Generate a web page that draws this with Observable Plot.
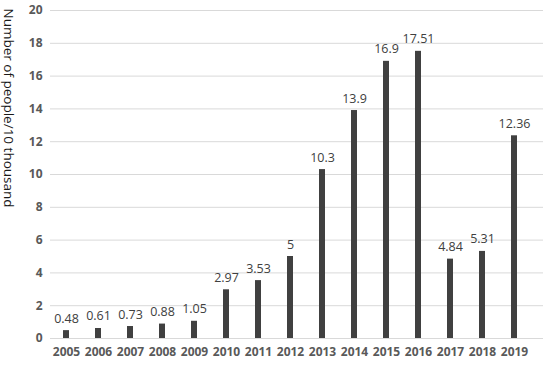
<!DOCTYPE html>
<html>
<head>
<meta charset="utf-8">
<script src="https://cdn.jsdelivr.net/npm/d3@7"></script>
<script src="https://cdn.jsdelivr.net/npm/@observablehq/plot@0.6"></script>
<style>
  html, body { margin: 0; padding: 0; background: #fff; }
  svg { display: block; }
</style>
</head>
<body>
<div id="chart"></div>
<script>
const years = ["2005","2006","2007","2008","2009","2010","2011","2012","2013","2014","2015","2016","2017","2018","2019"];
const values = [0.48, 0.61, 0.73, 0.88, 1.05, 2.97, 3.53, 5, 10.3, 13.9, 16.9, 17.51, 4.84, 5.31, 12.36];
const yTicks = [0, 2, 4, 6, 8, 10, 12, 14, 16, 18, 20];
const yTitle = "Number of people/10 thousand";

const data = years.map((y, i) => ({year: y, value: values[i]}));

const chart = Plot.plot({
  width: 550,
  height: 365,
  marginTop: 10,
  marginBottom: 27,
  marginLeft: 44,
  marginRight: 15,
  style: {fontFamily: "'Open Sans', sans-serif", background: "#fff"},
  x: {domain: years, paddingInner: 0.82, paddingOuter: 0.41, label: null},
  y: {domain: [0, 20], ticks: yTicks, label: null},
  marks: [
    Plot.ruleY(yTicks, {stroke: "#d9d9d9", strokeWidth: 1, insetLeft: 6, insetRight: -8}),
    Plot.barY(data, {x: "year", y: "value", fill: "#404040"}),
    Plot.text(data, {x: "year", y: "value", text: d => String(d.value), dy: -12, fill: "#404040", fontSize: 12.5}),
    Plot.axisX({tickSize: 0, tickPadding: 9, fontSize: 12, fontWeight: "bold", color: "#595959"}),
    Plot.axisY({ticks: yTicks, tickSize: 0, tickPadding: 2, fontSize: 12, fontWeight: "bold", color: "#595959", label: null}),
    Plot.text([yTitle], {frameAnchor: "top-left", dx: -31, dy: -2, rotate: 90, textAnchor: "start", fontSize: 13.5, fill: "#1a1a1a"})
  ]
});
document.getElementById("chart").appendChild(chart);
</script>
</body>
</html>
